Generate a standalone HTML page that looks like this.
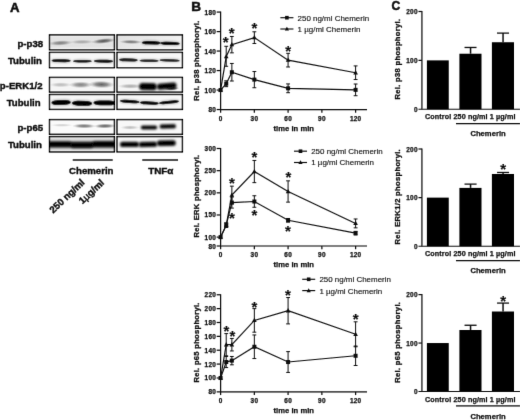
<!DOCTYPE html>
<html><head><meta charset="utf-8"><title>Figure</title>
<style>html,body{margin:0;padding:0;background:#fff;overflow:hidden}body{width:520px;height:420px;font-family:"Liberation Sans",sans-serif}</style>
</head><body>
<svg width="520" height="420" viewBox="0 0 520 420" style="display:block;font-family:'Liberation Sans',sans-serif">
<defs>
<filter id="b1" x="-30%" y="-100%" width="160%" height="300%"><feGaussianBlur stdDeviation="1.1 0.9"/></filter>
<filter id="b2" x="-30%" y="-100%" width="160%" height="300%"><feGaussianBlur stdDeviation="1.6 1.2"/></filter>
<filter id="b3" x="-30%" y="-100%" width="160%" height="300%"><feGaussianBlur stdDeviation="2.2 1.1"/></filter>
<filter id="tb" x="-5%" y="-5%" width="110%" height="110%"><feConvolveMatrix order="3" kernelMatrix="0 1 0 1 10 1 0 1 0" divisor="14" edgeMode="none" preserveAlpha="false"/></filter>
<filter id="gb" x="-5%" y="-5%" width="110%" height="110%"><feConvolveMatrix order="3" kernelMatrix="0 1 0 1 10 1 0 1 0" divisor="14" edgeMode="none" preserveAlpha="false"/></filter>
<linearGradient id="gtop" x1="0" y1="0" x2="0" y2="1"><stop offset="0" stop-color="#f6f6f6"/><stop offset="0.18" stop-color="#e4e4e4"/><stop offset="0.8" stop-color="#e2e2e2"/><stop offset="1" stop-color="#f8f8f8"/></linearGradient>
<filter id="rb" x="-20%" y="-60%" width="140%" height="220%"><feGaussianBlur stdDeviation="0.9"/></filter>
<radialGradient id="gs"><stop offset="0" stop-color="#000" stop-opacity="1"/><stop offset="0.45" stop-color="#000" stop-opacity="0.7"/><stop offset="0.75" stop-color="#000" stop-opacity="0.25"/><stop offset="1" stop-color="#000" stop-opacity="0"/></radialGradient>
<radialGradient id="gh"><stop offset="0" stop-color="#000" stop-opacity="1"/><stop offset="0.6" stop-color="#000" stop-opacity="1"/><stop offset="0.85" stop-color="#000" stop-opacity="0.45"/><stop offset="1" stop-color="#000" stop-opacity="0"/></radialGradient>
<linearGradient id="gtop2" x1="0" y1="0" x2="1" y2="0.4"><stop offset="0" stop-color="#e0e0e0"/><stop offset="0.6" stop-color="#ebebeb"/><stop offset="1" stop-color="#f4f4f4"/></linearGradient>
<linearGradient id="gtub" x1="0" y1="0" x2="0" y2="1"><stop offset="0" stop-color="#e6e6e6"/><stop offset="0.3" stop-color="#d4d4d4"/><stop offset="0.75" stop-color="#d4d4d4"/><stop offset="1" stop-color="#ececec"/></linearGradient>
</defs>
<rect width="520" height="420" fill="#fff"/>
<g filter="url(#tb)">
<text x="9.9" y="12.2" font-size="13.2" font-weight="bold" fill="#0d0d0d" stroke="#0d0d0d" stroke-width="0.55">A</text>
<clipPath id="c49_34"><rect x="49.5" y="34.9" width="64.9" height="14.9"/></clipPath>
<rect x="49.5" y="34.9" width="64.9" height="14.9" fill="url(#gtop)"/>
<g clip-path="url(#c49_34)">
<ellipse cx="60.5" cy="43" rx="12.2" ry="2.7" fill="url(#gs)" opacity="0.45" transform="rotate(-3.15 60.5 43)"/>
<ellipse cx="82" cy="41.9" rx="12.2" ry="2.3" fill="url(#gs)" opacity="0.27" transform="rotate(-0.86 82 41.9)"/>
<ellipse cx="103.5" cy="41" rx="12.2" ry="2.7" fill="url(#gs)" opacity="0.64" transform="rotate(-5.71 103.5 41)"/>
</g>
<rect x="49.5" y="34.9" width="64.9" height="14.9" fill="none" stroke="#000" stroke-width="1.4"/>
<clipPath id="c117_34"><rect x="117" y="34.9" width="65.4" height="14.9"/></clipPath>
<rect x="117" y="34.9" width="65.4" height="14.9" fill="url(#gtop2)"/>
<g clip-path="url(#c117_34)">
<ellipse cx="131" cy="41.9" rx="11.59" ry="2.2" fill="url(#gs)" opacity="0.5" transform="rotate(1.21 131 41.9)"/>
<rect x="141.5" y="40.85" width="19.3" height="3.9" rx="5.79" ry="1.95" fill="#000" opacity="0.4" filter="url(#rb)" transform="rotate(1.48 151.15 42.8)"/>
<rect x="141.8" y="41.15" width="18.7" height="3.3" rx="5.79" ry="1.65" fill="#000" opacity="1" transform="rotate(1.48 151.15 42.8)"/>
<rect x="160" y="41.5" width="20" height="3.8" rx="6" ry="1.9" fill="#000" opacity="0.4" filter="url(#rb)" transform="rotate(1.72 170 43.4)"/>
<rect x="160.3" y="41.8" width="19.4" height="3.2" rx="6" ry="1.6" fill="#000" opacity="1" transform="rotate(1.72 170 43.4)"/>
</g>
<rect x="117" y="34.9" width="65.4" height="14.9" fill="none" stroke="#000" stroke-width="1.4"/>
<clipPath id="c49_52"><rect x="49.5" y="52.4" width="64.9" height="15.3"/></clipPath>
<rect x="49.5" y="52.4" width="64.9" height="15.3" fill="#f8f8f8"/>
<g clip-path="url(#c49_52)">
<rect x="51.3" y="58.95" width="19.7" height="3.5" rx="5.91" ry="1.75" fill="#000" opacity="0.38" filter="url(#rb)" transform="rotate(0.58 61.15 60.7)"/>
<rect x="51.6" y="59.25" width="19.1" height="2.9" rx="5.91" ry="1.45" fill="#000" opacity="0.95" transform="rotate(0.58 61.15 60.7)"/>
<rect x="72.8" y="59.6" width="19.2" height="3.2" rx="5.76" ry="1.6" fill="#000" opacity="0.36" filter="url(#rb)"/>
<rect x="73.1" y="59.9" width="18.6" height="2.6" rx="5.76" ry="1.3" fill="#000" opacity="0.9"/>
<rect x="93.6" y="59.5" width="19.8" height="3.4" rx="5.94" ry="1.7" fill="#000" opacity="0.372" filter="url(#rb)" transform="rotate(0.87 103.5 61.2)"/>
<rect x="93.9" y="59.8" width="19.2" height="2.8" rx="5.94" ry="1.4" fill="#000" opacity="0.93" transform="rotate(0.87 103.5 61.2)"/>
</g>
<rect x="49.5" y="52.4" width="64.9" height="15.3" fill="none" stroke="#000" stroke-width="1.4"/>
<clipPath id="c117_52"><rect x="117" y="52.4" width="65.4" height="15.3"/></clipPath>
<rect x="117" y="52.4" width="65.4" height="15.3" fill="#f8f8f8"/>
<g clip-path="url(#c117_52)">
<rect x="118.5" y="58.15" width="19.5" height="3.5" rx="5.85" ry="1.75" fill="#000" opacity="0.34" filter="url(#rb)" transform="rotate(1.76 128.25 59.9)"/>
<rect x="118.8" y="58.45" width="18.9" height="2.9" rx="5.85" ry="1.45" fill="#000" opacity="0.85" transform="rotate(1.76 128.25 59.9)"/>
<rect x="139.2" y="59.15" width="19.8" height="3.1" rx="5.94" ry="1.55" fill="#000" opacity="0.32" filter="url(#rb)" transform="rotate(0.87 149.1 60.7)"/>
<rect x="139.5" y="59.45" width="19.2" height="2.5" rx="5.94" ry="1.25" fill="#000" opacity="0.8" transform="rotate(0.87 149.1 60.7)"/>
<rect x="159.3" y="58.85" width="20.7" height="3.1" rx="6.21" ry="1.55" fill="#000" opacity="0.32" filter="url(#rb)" transform="rotate(1.38 169.65 60.4)"/>
<rect x="159.6" y="59.15" width="20.1" height="2.5" rx="6.21" ry="1.25" fill="#000" opacity="0.8" transform="rotate(1.38 169.65 60.4)"/>
</g>
<rect x="117" y="52.4" width="65.4" height="15.3" fill="none" stroke="#000" stroke-width="1.4"/>
<clipPath id="c49_77"><rect x="49.5" y="77.4" width="64.9" height="14.7"/></clipPath>
<rect x="49.5" y="77.4" width="64.9" height="14.7" fill="#f5f5f5"/>
<g clip-path="url(#c49_77)">
<ellipse cx="60.75" cy="84.8" rx="11.285" ry="2.6" fill="url(#gs)" opacity="0.24"/>
<ellipse cx="80.75" cy="84.8" rx="11.895" ry="3.4" fill="url(#gs)" opacity="0.47"/>
<ellipse cx="101.5" cy="84.5" rx="12.81" ry="3.8" fill="url(#gs)" opacity="0.6" transform="rotate(1.36 101.5 84.5)"/>
</g>
<rect x="49.5" y="77.4" width="64.9" height="14.7" fill="none" stroke="#000" stroke-width="1.4"/>
<clipPath id="c117_77"><rect x="117" y="77.4" width="65.4" height="14.7"/></clipPath>
<rect x="117" y="77.4" width="65.4" height="14.7" fill="#f5f5f5"/>
<g clip-path="url(#c117_77)">
<ellipse cx="130.5" cy="86.2" rx="12.81" ry="2.6" fill="url(#gs)" opacity="0.3"/>
<rect x="139.1" y="83.05" width="17.7" height="7.1" rx="3.5" ry="3.5" fill="#000" opacity="1" filter="url(#rb)" transform="rotate(0.99 147.95 86.6)"/>
<rect x="157" y="83.05" width="19.6" height="6.3" rx="3.1" ry="3.1" fill="#000" opacity="1" filter="url(#rb)" transform="rotate(-4.76 166.8 86.2)"/>
<ellipse cx="172" cy="88.6" rx="7.32" ry="2" fill="url(#gs)" opacity="0.8" transform="rotate(-3.81 172 88.6)"/>
</g>
<rect x="117" y="77.4" width="65.4" height="14.7" fill="none" stroke="#000" stroke-width="1.4"/>
<clipPath id="c49_94"><rect x="49.5" y="94.5" width="64.9" height="14.9"/></clipPath>
<rect x="49.5" y="94.5" width="64.9" height="14.9" fill="#f6f6f6"/>
<g clip-path="url(#c49_94)">
<rect x="51.2" y="99.8" width="19.8" height="5.4" rx="5.94" ry="2.7" fill="#000" opacity="0.4" filter="url(#rb)" transform="rotate(-2.02 61.1 102.5)"/>
<rect x="51.5" y="100.1" width="19.2" height="4.8" rx="5.94" ry="2.4" fill="#000" opacity="1" transform="rotate(-2.02 61.1 102.5)"/>
<rect x="71.6" y="100.6" width="20.8" height="5.4" rx="6.24" ry="2.7" fill="#000" opacity="0.4" filter="url(#rb)" transform="rotate(1.10 82 103.3)"/>
<rect x="71.9" y="100.9" width="20.2" height="4.8" rx="6.24" ry="2.4" fill="#000" opacity="1" transform="rotate(1.10 82 103.3)"/>
<rect x="93.2" y="100.2" width="22.8" height="5.4" rx="6.84" ry="2.7" fill="#000" opacity="0.4" filter="url(#rb)" transform="rotate(0.75 104.6 102.9)"/>
<rect x="93.5" y="100.5" width="22.2" height="4.8" rx="6.84" ry="2.4" fill="#000" opacity="1" transform="rotate(0.75 104.6 102.9)"/>
</g>
<rect x="49.5" y="94.5" width="64.9" height="14.9" fill="none" stroke="#000" stroke-width="1.4"/>
<clipPath id="c117_94"><rect x="117" y="94.5" width="65.4" height="14.9"/></clipPath>
<rect x="117" y="94.5" width="65.4" height="14.9" fill="#f8f8f8"/>
<g clip-path="url(#c117_94)">
<rect x="119.5" y="99.75" width="20.3" height="3.5" rx="6.09" ry="1.75" fill="#000" opacity="0.4" filter="url(#rb)" transform="rotate(3.66 129.65 101.5)"/>
<rect x="119.8" y="100.05" width="19.7" height="2.9" rx="6.09" ry="1.45" fill="#000" opacity="1" transform="rotate(3.66 129.65 101.5)"/>
<rect x="139.6" y="101.2" width="19.4" height="3.6" rx="5.82" ry="1.8" fill="#000" opacity="0.4" filter="url(#rb)" transform="rotate(2.95 149.3 103)"/>
<rect x="139.9" y="101.5" width="18.8" height="3" rx="5.82" ry="1.5" fill="#000" opacity="1" transform="rotate(2.95 149.3 103)"/>
<rect x="158.8" y="100.55" width="20.5" height="3.5" rx="6.15" ry="1.75" fill="#000" opacity="0.4" filter="url(#rb)" transform="rotate(-5.57 169.05 102.3)"/>
<rect x="159.1" y="100.85" width="19.9" height="2.9" rx="6.15" ry="1.45" fill="#000" opacity="1" transform="rotate(-5.57 169.05 102.3)"/>
</g>
<rect x="117" y="94.5" width="65.4" height="14.9" fill="none" stroke="#000" stroke-width="1.4"/>
<clipPath id="c49_119"><rect x="49.5" y="119.6" width="64.9" height="14.7"/></clipPath>
<rect x="49.5" y="119.6" width="64.9" height="14.7" fill="#fafafa"/>
<g clip-path="url(#c49_119)">
<ellipse cx="61.75" cy="125.2" rx="11.285" ry="1.7" fill="url(#gs)" opacity="0.17"/>
<ellipse cx="84.05" cy="126" rx="11.895" ry="2.5" fill="url(#gs)" opacity="0.55" transform="rotate(0.59 84.05 126)"/>
<ellipse cx="104.9" cy="126" rx="11.102" ry="2.5" fill="url(#gs)" opacity="0.62" transform="rotate(-0.94 104.9 126)"/>
</g>
<rect x="49.5" y="119.6" width="64.9" height="14.7" fill="none" stroke="#000" stroke-width="1.4"/>
<clipPath id="c117_119"><rect x="117" y="119.6" width="65.4" height="14.7"/></clipPath>
<rect x="117" y="119.6" width="65.4" height="14.7" fill="#f8f8f8"/>
<g clip-path="url(#c117_119)">
<ellipse cx="130" cy="127.5" rx="9.76" ry="2.2" fill="url(#gs)" opacity="0.24"/>
<rect x="140.8" y="125.45" width="16.4" height="4.1" rx="2" ry="2" fill="#000" opacity="1" filter="url(#rb)"/>
<rect x="159.6" y="124.35" width="16.4" height="4.1" rx="2" ry="2" fill="#000" opacity="1" filter="url(#rb)" transform="rotate(-1.43 167.8 126.4)"/>
</g>
<rect x="117" y="119.6" width="65.4" height="14.7" fill="none" stroke="#000" stroke-width="1.4"/>
<clipPath id="c49_136"><rect x="49.5" y="136.6" width="64.9" height="15.3"/></clipPath>
<rect x="49.5" y="136.6" width="64.9" height="15.3" fill="url(#gtub)"/>
<g clip-path="url(#c49_136)">
<rect x="46.8" y="141.15" width="25.4" height="6.3" rx="3.1" ry="3.1" fill="#000" opacity="1" filter="url(#rb)"/>
<rect x="69.8" y="141.85" width="24.4" height="6.3" rx="3.1" ry="3.1" fill="#000" opacity="1" filter="url(#rb)"/>
<rect x="91.8" y="141" width="25.4" height="6.6" rx="3.25" ry="3.25" fill="#000" opacity="1" filter="url(#rb)"/>
</g>
<rect x="49.5" y="136.6" width="64.9" height="15.3" fill="none" stroke="#000" stroke-width="1.4"/>
<clipPath id="c117_136"><rect x="117" y="136.6" width="65.4" height="15.3"/></clipPath>
<rect x="117" y="136.6" width="65.4" height="15.3" fill="#f6f6f6"/>
<g clip-path="url(#c117_136)">
<rect x="120" y="141.8" width="19" height="5.2" rx="2.55" ry="2.55" fill="#000" opacity="1" filter="url(#rb)"/>
<rect x="138.9" y="141.8" width="18.2" height="5.2" rx="2.55" ry="2.55" fill="#000" opacity="1" filter="url(#rb)" transform="rotate(-1.29 148 144.4)"/>
<rect x="157" y="140.3" width="18.8" height="5.6" rx="2.75" ry="2.75" fill="#000" opacity="1" filter="url(#rb)" transform="rotate(-0.93 166.4 143.1)"/>
</g>
<rect x="117" y="136.6" width="65.4" height="15.3" fill="none" stroke="#000" stroke-width="1.4"/>
<text x="43.1" y="47" font-size="9.6" font-weight="bold" text-anchor="end" fill="#0d0d0d" stroke="#0d0d0d" stroke-width="0.4">p-p38</text>
<text x="41.9" y="64" font-size="9.6" font-weight="bold" text-anchor="end" fill="#0d0d0d" stroke="#0d0d0d" stroke-width="0.4">Tubulin</text>
<text x="42.5" y="88.9" font-size="9.6" font-weight="bold" text-anchor="end" fill="#0d0d0d" stroke="#0d0d0d" stroke-width="0.4">p-ERK1/2</text>
<text x="40.6" y="105.5" font-size="9.6" font-weight="bold" text-anchor="end" fill="#0d0d0d" stroke="#0d0d0d" stroke-width="0.4">Tubulin</text>
<text x="43.1" y="131" font-size="9.6" font-weight="bold" text-anchor="end" fill="#0d0d0d" stroke="#0d0d0d" stroke-width="0.4">p-p65</text>
<text x="41.9" y="148" font-size="9.6" font-weight="bold" text-anchor="end" fill="#0d0d0d" stroke="#0d0d0d" stroke-width="0.4">Tubulin</text>
<line x1="72.75" y1="160" x2="112.75" y2="160" stroke="#0d0d0d" stroke-width="1.4"/>
<line x1="142.25" y1="160" x2="178" y2="160" stroke="#0d0d0d" stroke-width="1.4"/>
<text x="91.25" y="173.6" font-size="9.65" font-weight="bold" text-anchor="middle" fill="#0d0d0d" stroke="#0d0d0d" stroke-width="0.4">Chemerin</text>
<text x="160.8" y="173.6" font-size="9.9" font-weight="bold" text-anchor="middle" fill="#0d0d0d" stroke="#0d0d0d" stroke-width="0.4">TNFα</text>
<text transform="translate(85.3,183.2) rotate(-43.5)" font-size="9.6" font-weight="bold" text-anchor="end" fill="#0d0d0d" stroke="#0d0d0d" stroke-width="0.4">250 ng/ml</text>
<text transform="translate(104.8,183.5) rotate(-43.5)" font-size="9.6" font-weight="bold" text-anchor="end" fill="#0d0d0d" stroke="#0d0d0d" stroke-width="0.4">1<tspan font-weight="normal">µ</tspan>g/ml</text>
</g>
<g filter="url(#gb)">
<text x="191.2" y="11.2" font-size="13.6" font-weight="bold" fill="#0d0d0d" stroke="#0d0d0d" stroke-width="0.5">B</text>
<path d="M220.6 11.5 V109.55 H367" fill="none" stroke="#0d0d0d" stroke-width="1.22"/>
<line x1="216.7" y1="109.55" x2="220.6" y2="109.55" stroke="#0d0d0d" stroke-width="1.22"/>
<text x="216.1" y="112.05" font-size="6.4" font-weight="bold" text-anchor="end" fill="#0d0d0d" stroke="#0d0d0d" stroke-width="0.25" letter-spacing="0.3">80</text>
<line x1="216.7" y1="90.06" x2="220.6" y2="90.06" stroke="#0d0d0d" stroke-width="1.22"/>
<text x="216.1" y="92.56" font-size="6.4" font-weight="bold" text-anchor="end" fill="#0d0d0d" stroke="#0d0d0d" stroke-width="0.25" letter-spacing="0.3">100</text>
<line x1="216.7" y1="70.57" x2="220.6" y2="70.57" stroke="#0d0d0d" stroke-width="1.22"/>
<text x="216.1" y="73.07" font-size="6.4" font-weight="bold" text-anchor="end" fill="#0d0d0d" stroke="#0d0d0d" stroke-width="0.25" letter-spacing="0.3">120</text>
<line x1="216.7" y1="51.08" x2="220.6" y2="51.08" stroke="#0d0d0d" stroke-width="1.22"/>
<text x="216.1" y="53.58" font-size="6.4" font-weight="bold" text-anchor="end" fill="#0d0d0d" stroke="#0d0d0d" stroke-width="0.25" letter-spacing="0.3">140</text>
<line x1="216.7" y1="31.59" x2="220.6" y2="31.59" stroke="#0d0d0d" stroke-width="1.22"/>
<text x="216.1" y="34.09" font-size="6.4" font-weight="bold" text-anchor="end" fill="#0d0d0d" stroke="#0d0d0d" stroke-width="0.25" letter-spacing="0.3">160</text>
<line x1="216.7" y1="12.1" x2="220.6" y2="12.1" stroke="#0d0d0d" stroke-width="1.22"/>
<text x="216.1" y="14.6" font-size="6.4" font-weight="bold" text-anchor="end" fill="#0d0d0d" stroke="#0d0d0d" stroke-width="0.25" letter-spacing="0.3">180</text>
<line x1="220.6" y1="109.55" x2="220.6" y2="112.75" stroke="#0d0d0d" stroke-width="1.22"/>
<text x="220.7" y="120.55" font-size="6.4" font-weight="bold" text-anchor="middle" fill="#0d0d0d" stroke="#0d0d0d" stroke-width="0.25" letter-spacing="0.3">0</text>
<line x1="254.35" y1="109.55" x2="254.35" y2="112.75" stroke="#0d0d0d" stroke-width="1.22"/>
<text x="254.45" y="120.55" font-size="6.4" font-weight="bold" text-anchor="middle" fill="#0d0d0d" stroke="#0d0d0d" stroke-width="0.25" letter-spacing="0.3">30</text>
<line x1="288.1" y1="109.55" x2="288.1" y2="112.75" stroke="#0d0d0d" stroke-width="1.22"/>
<text x="288.2" y="120.55" font-size="6.4" font-weight="bold" text-anchor="middle" fill="#0d0d0d" stroke="#0d0d0d" stroke-width="0.25" letter-spacing="0.3">60</text>
<line x1="321.85" y1="109.55" x2="321.85" y2="112.75" stroke="#0d0d0d" stroke-width="1.22"/>
<text x="321.95" y="120.55" font-size="6.4" font-weight="bold" text-anchor="middle" fill="#0d0d0d" stroke="#0d0d0d" stroke-width="0.25" letter-spacing="0.3">90</text>
<line x1="355.6" y1="109.55" x2="355.6" y2="112.75" stroke="#0d0d0d" stroke-width="1.22"/>
<text x="355.7" y="120.55" font-size="6.4" font-weight="bold" text-anchor="middle" fill="#0d0d0d" stroke="#0d0d0d" stroke-width="0.25" letter-spacing="0.3">120</text>
<text x="293.75" y="130.95" font-size="7.6" font-weight="bold" text-anchor="middle" fill="#0d0d0d" stroke="#0d0d0d" stroke-width="0.25" letter-spacing="0.05">time in min</text>
<text transform="translate(199.1,60.5) rotate(-90)" font-size="7.6" font-weight="bold" text-anchor="middle" fill="#0d0d0d" stroke="#0d0d0d" stroke-width="0.3" letter-spacing="0.28">Rel. p38 phosphoryl.</text>
<polyline points="220.6,90.06 226.225,83.7258 231.85,72.2267 254.35,79.6328 288.1,88.3059 355.6,89.8651" fill="none" stroke="#0d0d0d" stroke-width="1.15"/>
<rect x="218.6" y="88.06" width="4" height="4" fill="#0d0d0d"/>
<path d="M226.225 80.8023 V86.6492 M224.325 80.8023 H228.125 M224.325 86.6492 H228.125" stroke="#0d0d0d" stroke-width="1" fill="none"/>
<rect x="224.225" y="81.7258" width="4" height="4" fill="#0d0d0d"/>
<path d="M231.85 63.4562 V80.9972 M229.95 63.4562 H233.75 M229.95 80.9972 H233.75" stroke="#0d0d0d" stroke-width="1" fill="none"/>
<rect x="229.85" y="70.2267" width="4" height="4" fill="#0d0d0d"/>
<path d="M254.35 71.5445 V87.7212 M252.45 71.5445 H256.25 M252.45 87.7212 H256.25" stroke="#0d0d0d" stroke-width="1" fill="none"/>
<rect x="252.35" y="77.6328" width="4" height="4" fill="#0d0d0d"/>
<path d="M288.1 83.9206 V92.6911 M286.2 83.9206 H290 M286.2 92.6911 H290" stroke="#0d0d0d" stroke-width="1" fill="none"/>
<rect x="286.1" y="86.3059" width="4" height="4" fill="#0d0d0d"/>
<path d="M355.6 84.0181 V95.7121 M353.7 84.0181 H357.5 M353.7 95.7121 H357.5" stroke="#0d0d0d" stroke-width="1" fill="none"/>
<rect x="353.6" y="87.8651" width="4" height="4" fill="#0d0d0d"/>
<polyline points="220.6,90.06 226.225,56.5372 231.85,44.6483 254.35,37.6319 288.1,60.1429 355.6,72.7139" fill="none" stroke="#0d0d0d" stroke-width="1.15"/>
<path d="M220.6 87.46 L222.9 91.76 L218.3 91.76 Z" fill="#0d0d0d"/>
<path d="M226.225 46.3049 V66.2822 M224.325 46.3049 H228.125 M224.325 66.2822 H228.125" stroke="#0d0d0d" stroke-width="1" fill="none"/>
<path d="M226.225 53.9372 L228.525 58.2372 L223.925 58.2372 Z" fill="#0d0d0d"/>
<path d="M231.85 36.4625 V52.8341 M229.95 36.4625 H233.75 M229.95 52.8341 H233.75" stroke="#0d0d0d" stroke-width="1" fill="none"/>
<path d="M231.85 42.0483 L234.15 46.3483 L229.55 46.3483 Z" fill="#0d0d0d"/>
<path d="M254.35 31.7849 V43.4789 M252.45 31.7849 H256.25 M252.45 43.4789 H256.25" stroke="#0d0d0d" stroke-width="1" fill="none"/>
<path d="M254.35 35.0319 L256.65 39.3319 L252.05 39.3319 Z" fill="#0d0d0d"/>
<path d="M288.1 53.3214 V66.9644 M286.2 53.3214 H290 M286.2 66.9644 H290" stroke="#0d0d0d" stroke-width="1" fill="none"/>
<path d="M288.1 57.5429 L290.4 61.8429 L285.8 61.8429 Z" fill="#0d0d0d"/>
<path d="M355.6 65.8924 V79.5354 M353.7 65.8924 H357.5 M353.7 79.5354 H357.5" stroke="#0d0d0d" stroke-width="1" fill="none"/>
<path d="M355.6 70.1139 L357.9 74.4139 L353.3 74.4139 Z" fill="#0d0d0d"/>
<text x="225.75" y="47.13" font-size="15" font-weight="bold" text-anchor="middle" fill="#0d0d0d" stroke="#0d0d0d" stroke-width="0.15">*</text>
<text x="231.75" y="38.03" font-size="15" font-weight="bold" text-anchor="middle" fill="#0d0d0d" stroke="#0d0d0d" stroke-width="0.15">*</text>
<text x="254.4" y="32.78" font-size="15" font-weight="bold" text-anchor="middle" fill="#0d0d0d" stroke="#0d0d0d" stroke-width="0.15">*</text>
<text x="288.1" y="55.63" font-size="15" font-weight="bold" text-anchor="middle" fill="#0d0d0d" stroke="#0d0d0d" stroke-width="0.15">*</text>
<line x1="280.4" y1="17.7" x2="293.4" y2="17.7" stroke="#0d0d0d" stroke-width="1.15"/>
<rect x="285.1" y="15.9" width="3.6" height="3.6" fill="#0d0d0d"/>
<text x="297.6" y="20.6" font-size="7.95" fill="#0d0d0d" stroke="#0d0d0d" stroke-width="0.12">250 ng/ml Chemerin</text>
<line x1="280.4" y1="29" x2="293.4" y2="29" stroke="#0d0d0d" stroke-width="1.15"/>
<path d="M286.9 26.7 L289 30.6 L284.8 30.6 Z" fill="#0d0d0d"/>
<text x="297.6" y="31.9" font-size="7.95" fill="#0d0d0d" stroke="#0d0d0d" stroke-width="0.12">1 µg/ml Chemerin</text>
<path d="M220.6 147.9 V246 H367" fill="none" stroke="#0d0d0d" stroke-width="1.22"/>
<line x1="216.7" y1="246" x2="220.6" y2="246" stroke="#0d0d0d" stroke-width="1.22"/>
<text x="216.1" y="248.5" font-size="6.4" font-weight="bold" text-anchor="end" fill="#0d0d0d" stroke="#0d0d0d" stroke-width="0.25" letter-spacing="0.3">80</text>
<line x1="216.7" y1="237.136" x2="220.6" y2="237.136" stroke="#0d0d0d" stroke-width="1.22"/>
<text x="216.1" y="239.636" font-size="6.4" font-weight="bold" text-anchor="end" fill="#0d0d0d" stroke="#0d0d0d" stroke-width="0.25" letter-spacing="0.3">100</text>
<line x1="216.7" y1="214.977" x2="220.6" y2="214.977" stroke="#0d0d0d" stroke-width="1.22"/>
<text x="216.1" y="217.477" font-size="6.4" font-weight="bold" text-anchor="end" fill="#0d0d0d" stroke="#0d0d0d" stroke-width="0.25" letter-spacing="0.3">150</text>
<line x1="216.7" y1="192.818" x2="220.6" y2="192.818" stroke="#0d0d0d" stroke-width="1.22"/>
<text x="216.1" y="195.318" font-size="6.4" font-weight="bold" text-anchor="end" fill="#0d0d0d" stroke="#0d0d0d" stroke-width="0.25" letter-spacing="0.3">200</text>
<line x1="216.7" y1="170.659" x2="220.6" y2="170.659" stroke="#0d0d0d" stroke-width="1.22"/>
<text x="216.1" y="173.159" font-size="6.4" font-weight="bold" text-anchor="end" fill="#0d0d0d" stroke="#0d0d0d" stroke-width="0.25" letter-spacing="0.3">250</text>
<line x1="216.7" y1="148.5" x2="220.6" y2="148.5" stroke="#0d0d0d" stroke-width="1.22"/>
<text x="216.1" y="151" font-size="6.4" font-weight="bold" text-anchor="end" fill="#0d0d0d" stroke="#0d0d0d" stroke-width="0.25" letter-spacing="0.3">300</text>
<line x1="220.6" y1="246" x2="220.6" y2="249.2" stroke="#0d0d0d" stroke-width="1.22"/>
<text x="220.7" y="257" font-size="6.4" font-weight="bold" text-anchor="middle" fill="#0d0d0d" stroke="#0d0d0d" stroke-width="0.25" letter-spacing="0.3">0</text>
<line x1="254.35" y1="246" x2="254.35" y2="249.2" stroke="#0d0d0d" stroke-width="1.22"/>
<text x="254.45" y="257" font-size="6.4" font-weight="bold" text-anchor="middle" fill="#0d0d0d" stroke="#0d0d0d" stroke-width="0.25" letter-spacing="0.3">30</text>
<line x1="288.1" y1="246" x2="288.1" y2="249.2" stroke="#0d0d0d" stroke-width="1.22"/>
<text x="288.2" y="257" font-size="6.4" font-weight="bold" text-anchor="middle" fill="#0d0d0d" stroke="#0d0d0d" stroke-width="0.25" letter-spacing="0.3">60</text>
<line x1="321.85" y1="246" x2="321.85" y2="249.2" stroke="#0d0d0d" stroke-width="1.22"/>
<text x="321.95" y="257" font-size="6.4" font-weight="bold" text-anchor="middle" fill="#0d0d0d" stroke="#0d0d0d" stroke-width="0.25" letter-spacing="0.3">90</text>
<line x1="355.6" y1="246" x2="355.6" y2="249.2" stroke="#0d0d0d" stroke-width="1.22"/>
<text x="355.7" y="257" font-size="6.4" font-weight="bold" text-anchor="middle" fill="#0d0d0d" stroke="#0d0d0d" stroke-width="0.25" letter-spacing="0.3">120</text>
<text x="293.75" y="267.4" font-size="7.6" font-weight="bold" text-anchor="middle" fill="#0d0d0d" stroke="#0d0d0d" stroke-width="0.25" letter-spacing="0.05">time in min</text>
<text transform="translate(199.1,196.1) rotate(-90)" font-size="7.6" font-weight="bold" text-anchor="middle" fill="#0d0d0d" stroke="#0d0d0d" stroke-width="0.3" letter-spacing="0.27">Rel. ERK phosphoryl.</text>
<polyline points="220.6,237.136 226.225,225.17 231.85,202.568 254.35,201.505 288.1,220.295 355.6,233.148" fill="none" stroke="#0d0d0d" stroke-width="1.15"/>
<rect x="218.6" y="235.136" width="4" height="4" fill="#0d0d0d"/>
<path d="M226.225 222.955 V227.386 M224.325 222.955 H228.125 M224.325 227.386 H228.125" stroke="#0d0d0d" stroke-width="1" fill="none"/>
<rect x="224.225" y="223.17" width="4" height="4" fill="#0d0d0d"/>
<path d="M231.85 197.028 V208.108 M229.95 197.028 H233.75 M229.95 208.108 H233.75" stroke="#0d0d0d" stroke-width="1" fill="none"/>
<rect x="229.85" y="200.568" width="4" height="4" fill="#0d0d0d"/>
<path d="M254.35 195.743 V207.266 M252.45 195.743 H256.25 M252.45 207.266 H256.25" stroke="#0d0d0d" stroke-width="1" fill="none"/>
<rect x="252.35" y="199.505" width="4" height="4" fill="#0d0d0d"/>
<path d="M288.1 218.523 V222.068 M286.2 218.523 H290 M286.2 222.068 H290" stroke="#0d0d0d" stroke-width="1" fill="none"/>
<rect x="286.1" y="218.295" width="4" height="4" fill="#0d0d0d"/>
<path d="M355.6 231.375 V234.92 M353.7 231.375 H357.5 M353.7 234.92 H357.5" stroke="#0d0d0d" stroke-width="1" fill="none"/>
<rect x="353.6" y="231.148" width="4" height="4" fill="#0d0d0d"/>
<polyline points="220.6,237.136 226.225,225.17 231.85,195.034 254.35,171.545 288.1,191.489 355.6,223.398" fill="none" stroke="#0d0d0d" stroke-width="1.15"/>
<path d="M220.6 234.536 L222.9 238.836 L218.3 238.836 Z" fill="#0d0d0d"/>
<path d="M226.225 222.955 V227.386 M224.325 222.955 H228.125 M224.325 227.386 H228.125" stroke="#0d0d0d" stroke-width="1" fill="none"/>
<path d="M226.225 222.57 L228.525 226.87 L223.925 226.87 Z" fill="#0d0d0d"/>
<path d="M231.85 186.17 V203.898 M229.95 186.17 H233.75 M229.95 203.898 H233.75" stroke="#0d0d0d" stroke-width="1" fill="none"/>
<path d="M231.85 192.434 L234.15 196.734 L229.55 196.734 Z" fill="#0d0d0d"/>
<path d="M254.35 160.466 V182.625 M252.45 160.466 H256.25 M252.45 182.625 H256.25" stroke="#0d0d0d" stroke-width="1" fill="none"/>
<path d="M254.35 168.945 L256.65 173.245 L252.05 173.245 Z" fill="#0d0d0d"/>
<path d="M288.1 180.852 V202.125 M286.2 180.852 H290 M286.2 202.125 H290" stroke="#0d0d0d" stroke-width="1" fill="none"/>
<path d="M288.1 188.889 L290.4 193.189 L285.8 193.189 Z" fill="#0d0d0d"/>
<path d="M355.6 218.966 V227.83 M353.7 218.966 H357.5 M353.7 227.83 H357.5" stroke="#0d0d0d" stroke-width="1" fill="none"/>
<path d="M355.6 220.798 L357.9 225.098 L353.3 225.098 Z" fill="#0d0d0d"/>
<text x="231.9" y="187.53" font-size="15" font-weight="bold" text-anchor="middle" fill="#0d0d0d" stroke="#0d0d0d" stroke-width="0.15">*</text>
<text x="254.4" y="161.93" font-size="15" font-weight="bold" text-anchor="middle" fill="#0d0d0d" stroke="#0d0d0d" stroke-width="0.15">*</text>
<text x="288.3" y="181.93" font-size="15" font-weight="bold" text-anchor="middle" fill="#0d0d0d" stroke="#0d0d0d" stroke-width="0.15">*</text>
<text x="231.9" y="223.13" font-size="15" font-weight="bold" text-anchor="middle" fill="#0d0d0d" stroke="#0d0d0d" stroke-width="0.15">*</text>
<text x="254.4" y="220.28" font-size="15" font-weight="bold" text-anchor="middle" fill="#0d0d0d" stroke="#0d0d0d" stroke-width="0.15">*</text>
<text x="288" y="235.73" font-size="15" font-weight="bold" text-anchor="middle" fill="#0d0d0d" stroke="#0d0d0d" stroke-width="0.15">*</text>
<line x1="294" y1="151.2" x2="307" y2="151.2" stroke="#0d0d0d" stroke-width="1.15"/>
<rect x="298.7" y="149.4" width="3.6" height="3.6" fill="#0d0d0d"/>
<text x="311.2" y="154.1" font-size="7.95" fill="#0d0d0d" stroke="#0d0d0d" stroke-width="0.12">250 ng/ml Chemerin</text>
<line x1="294" y1="162.5" x2="307" y2="162.5" stroke="#0d0d0d" stroke-width="1.15"/>
<path d="M300.5 160.2 L302.6 164.1 L298.4 164.1 Z" fill="#0d0d0d"/>
<text x="311.2" y="165.4" font-size="7.95" fill="#0d0d0d" stroke="#0d0d0d" stroke-width="0.12">1 µg/ml Chemerin</text>
<path d="M220.6 294.15 V391.85 H367" fill="none" stroke="#0d0d0d" stroke-width="1.22"/>
<line x1="216.7" y1="391.85" x2="220.6" y2="391.85" stroke="#0d0d0d" stroke-width="1.22"/>
<text x="216.1" y="394.35" font-size="6.4" font-weight="bold" text-anchor="end" fill="#0d0d0d" stroke="#0d0d0d" stroke-width="0.25" letter-spacing="0.3">80</text>
<line x1="216.7" y1="377.979" x2="220.6" y2="377.979" stroke="#0d0d0d" stroke-width="1.22"/>
<text x="216.1" y="380.479" font-size="6.4" font-weight="bold" text-anchor="end" fill="#0d0d0d" stroke="#0d0d0d" stroke-width="0.25" letter-spacing="0.3">100</text>
<line x1="216.7" y1="364.107" x2="220.6" y2="364.107" stroke="#0d0d0d" stroke-width="1.22"/>
<text x="216.1" y="366.607" font-size="6.4" font-weight="bold" text-anchor="end" fill="#0d0d0d" stroke="#0d0d0d" stroke-width="0.25" letter-spacing="0.3">120</text>
<line x1="216.7" y1="350.236" x2="220.6" y2="350.236" stroke="#0d0d0d" stroke-width="1.22"/>
<text x="216.1" y="352.736" font-size="6.4" font-weight="bold" text-anchor="end" fill="#0d0d0d" stroke="#0d0d0d" stroke-width="0.25" letter-spacing="0.3">140</text>
<line x1="216.7" y1="336.364" x2="220.6" y2="336.364" stroke="#0d0d0d" stroke-width="1.22"/>
<text x="216.1" y="338.864" font-size="6.4" font-weight="bold" text-anchor="end" fill="#0d0d0d" stroke="#0d0d0d" stroke-width="0.25" letter-spacing="0.3">160</text>
<line x1="216.7" y1="322.493" x2="220.6" y2="322.493" stroke="#0d0d0d" stroke-width="1.22"/>
<text x="216.1" y="324.993" font-size="6.4" font-weight="bold" text-anchor="end" fill="#0d0d0d" stroke="#0d0d0d" stroke-width="0.25" letter-spacing="0.3">180</text>
<line x1="216.7" y1="308.621" x2="220.6" y2="308.621" stroke="#0d0d0d" stroke-width="1.22"/>
<text x="216.1" y="311.121" font-size="6.4" font-weight="bold" text-anchor="end" fill="#0d0d0d" stroke="#0d0d0d" stroke-width="0.25" letter-spacing="0.3">200</text>
<line x1="216.7" y1="294.75" x2="220.6" y2="294.75" stroke="#0d0d0d" stroke-width="1.22"/>
<text x="216.1" y="297.25" font-size="6.4" font-weight="bold" text-anchor="end" fill="#0d0d0d" stroke="#0d0d0d" stroke-width="0.25" letter-spacing="0.3">220</text>
<line x1="220.6" y1="391.85" x2="220.6" y2="395.05" stroke="#0d0d0d" stroke-width="1.22"/>
<text x="220.7" y="402.85" font-size="6.4" font-weight="bold" text-anchor="middle" fill="#0d0d0d" stroke="#0d0d0d" stroke-width="0.25" letter-spacing="0.3">0</text>
<line x1="254.35" y1="391.85" x2="254.35" y2="395.05" stroke="#0d0d0d" stroke-width="1.22"/>
<text x="254.45" y="402.85" font-size="6.4" font-weight="bold" text-anchor="middle" fill="#0d0d0d" stroke="#0d0d0d" stroke-width="0.25" letter-spacing="0.3">30</text>
<line x1="288.1" y1="391.85" x2="288.1" y2="395.05" stroke="#0d0d0d" stroke-width="1.22"/>
<text x="288.2" y="402.85" font-size="6.4" font-weight="bold" text-anchor="middle" fill="#0d0d0d" stroke="#0d0d0d" stroke-width="0.25" letter-spacing="0.3">60</text>
<line x1="321.85" y1="391.85" x2="321.85" y2="395.05" stroke="#0d0d0d" stroke-width="1.22"/>
<text x="321.95" y="402.85" font-size="6.4" font-weight="bold" text-anchor="middle" fill="#0d0d0d" stroke="#0d0d0d" stroke-width="0.25" letter-spacing="0.3">90</text>
<line x1="355.6" y1="391.85" x2="355.6" y2="395.05" stroke="#0d0d0d" stroke-width="1.22"/>
<text x="355.7" y="402.85" font-size="6.4" font-weight="bold" text-anchor="middle" fill="#0d0d0d" stroke="#0d0d0d" stroke-width="0.25" letter-spacing="0.3">120</text>
<text x="293.75" y="413.25" font-size="7.6" font-weight="bold" text-anchor="middle" fill="#0d0d0d" stroke="#0d0d0d" stroke-width="0.25" letter-spacing="0.05">time in min</text>
<text transform="translate(199.1,342.4) rotate(-90)" font-size="7.6" font-weight="bold" text-anchor="middle" fill="#0d0d0d" stroke="#0d0d0d" stroke-width="0.3" letter-spacing="0.28">Rel. p65 phosphoryl.</text>
<polyline points="220.6,377.979 226.225,362.026 231.85,360.639 254.35,346.768 288.1,362.026 355.6,355.784" fill="none" stroke="#0d0d0d" stroke-width="1.15"/>
<rect x="218.6" y="375.979" width="4" height="4" fill="#0d0d0d"/>
<path d="M226.225 356.478 V367.575 M224.325 356.478 H228.125 M224.325 367.575 H228.125" stroke="#0d0d0d" stroke-width="1" fill="none"/>
<rect x="224.225" y="360.026" width="4" height="4" fill="#0d0d0d"/>
<path d="M231.85 356.478 V364.801 M229.95 356.478 H233.75 M229.95 364.801 H233.75" stroke="#0d0d0d" stroke-width="1" fill="none"/>
<rect x="229.85" y="358.639" width="4" height="4" fill="#0d0d0d"/>
<path d="M254.35 334.977 V358.559 M252.45 334.977 H256.25 M252.45 358.559 H256.25" stroke="#0d0d0d" stroke-width="1" fill="none"/>
<rect x="252.35" y="344.768" width="4" height="4" fill="#0d0d0d"/>
<path d="M288.1 351.623 V372.43 M286.2 351.623 H290 M286.2 372.43 H290" stroke="#0d0d0d" stroke-width="1" fill="none"/>
<rect x="286.1" y="360.026" width="4" height="4" fill="#0d0d0d"/>
<path d="M355.6 346.074 V365.494 M353.7 346.074 H357.5 M353.7 365.494 H357.5" stroke="#0d0d0d" stroke-width="1" fill="none"/>
<rect x="353.6" y="353.784" width="4" height="4" fill="#0d0d0d"/>
<polyline points="220.6,377.979 226.225,344.687 231.85,344.687 254.35,320.412 288.1,310.702 355.6,334.284" fill="none" stroke="#0d0d0d" stroke-width="1.15"/>
<path d="M220.6 375.379 L222.9 379.679 L218.3 379.679 Z" fill="#0d0d0d"/>
<path d="M226.225 333.59 V355.784 M224.325 333.59 H228.125 M224.325 355.784 H228.125" stroke="#0d0d0d" stroke-width="1" fill="none"/>
<path d="M226.225 342.087 L228.525 346.387 L223.925 346.387 Z" fill="#0d0d0d"/>
<path d="M231.85 338.445 V350.929 M229.95 338.445 H233.75 M229.95 350.929 H233.75" stroke="#0d0d0d" stroke-width="1" fill="none"/>
<path d="M231.85 342.087 L234.15 346.387 L229.55 346.387 Z" fill="#0d0d0d"/>
<path d="M254.35 308.621 V332.203 M252.45 308.621 H256.25 M252.45 332.203 H256.25" stroke="#0d0d0d" stroke-width="1" fill="none"/>
<path d="M254.35 317.812 L256.65 322.112 L252.05 322.112 Z" fill="#0d0d0d"/>
<path d="M288.1 297.524 V323.88 M286.2 297.524 H290 M286.2 323.88 H290" stroke="#0d0d0d" stroke-width="1" fill="none"/>
<path d="M288.1 308.102 L290.4 312.402 L285.8 312.402 Z" fill="#0d0d0d"/>
<path d="M355.6 321.799 V346.768 M353.7 321.799 H357.5 M353.7 346.768 H357.5" stroke="#0d0d0d" stroke-width="1" fill="none"/>
<path d="M355.6 331.684 L357.9 335.984 L353.3 335.984 Z" fill="#0d0d0d"/>
<text x="226.5" y="336.28" font-size="15" font-weight="bold" text-anchor="middle" fill="#0d0d0d" stroke="#0d0d0d" stroke-width="0.15">*</text>
<text x="232.4" y="341.03" font-size="15" font-weight="bold" text-anchor="middle" fill="#0d0d0d" stroke="#0d0d0d" stroke-width="0.15">*</text>
<text x="254.5" y="311.53" font-size="15" font-weight="bold" text-anchor="middle" fill="#0d0d0d" stroke="#0d0d0d" stroke-width="0.15">*</text>
<text x="288" y="299.78" font-size="15" font-weight="bold" text-anchor="middle" fill="#0d0d0d" stroke="#0d0d0d" stroke-width="0.15">*</text>
<text x="355.6" y="323.53" font-size="15" font-weight="bold" text-anchor="middle" fill="#0d0d0d" stroke="#0d0d0d" stroke-width="0.15">*</text>
<line x1="302.2" y1="279.3" x2="315.2" y2="279.3" stroke="#0d0d0d" stroke-width="1.15"/>
<rect x="306.9" y="277.5" width="3.6" height="3.6" fill="#0d0d0d"/>
<text x="319.4" y="282.2" font-size="7.95" fill="#0d0d0d" stroke="#0d0d0d" stroke-width="0.12">250 ng/ml Chemerin</text>
<line x1="302.2" y1="290.6" x2="315.2" y2="290.6" stroke="#0d0d0d" stroke-width="1.15"/>
<path d="M308.7 288.3 L310.8 292.2 L306.6 292.2 Z" fill="#0d0d0d"/>
<text x="319.4" y="293.5" font-size="7.95" fill="#0d0d0d" stroke="#0d0d0d" stroke-width="0.12">1 µg/ml Chemerin</text>
</g>
<g filter="url(#gb)">
<text x="391.6" y="9.8" font-size="12" font-weight="bold" fill="#0d0d0d" stroke="#0d0d0d" stroke-width="0.5">C</text>
<path d="M421.9 10.9 V109.25" fill="none" stroke="#0d0d0d" stroke-width="1.22"/>
<path d="M418.5 109.25 H520" fill="none" stroke="#0d0d0d" stroke-width="1.22"/>
<line x1="418.5" y1="60.375" x2="421.9" y2="60.375" stroke="#0d0d0d" stroke-width="1.22"/>
<line x1="418.5" y1="11.5" x2="421.9" y2="11.5" stroke="#0d0d0d" stroke-width="1.22"/>
<text x="417.8" y="111.75" font-size="6.4" font-weight="bold" text-anchor="end" fill="#0d0d0d" stroke="#0d0d0d" stroke-width="0.25" letter-spacing="0.3">0</text>
<text x="417.8" y="62.875" font-size="6.4" font-weight="bold" text-anchor="end" fill="#0d0d0d" stroke="#0d0d0d" stroke-width="0.25" letter-spacing="0.3">100</text>
<text x="417.8" y="14" font-size="6.4" font-weight="bold" text-anchor="end" fill="#0d0d0d" stroke="#0d0d0d" stroke-width="0.25" letter-spacing="0.3">200</text>
<rect x="426.9" y="60.375" width="21.85" height="48.875" fill="#050505"/>
<rect x="459.4" y="53.728" width="22.1" height="55.522" fill="#050505"/>
<path d="M470.55 53.728 V47.472" stroke="#0d0d0d" stroke-width="1.5" fill="none"/>
<path d="M464.55 47.472 H476.55" stroke="#0d0d0d" stroke-width="1.3" fill="none"/>
<rect x="491.9" y="42.2424" width="22.1" height="67.0076" fill="#050505"/>
<path d="M503.05 42.2424 V33.1028" stroke="#0d0d0d" stroke-width="1.5" fill="none"/>
<path d="M497.05 33.1028 H509.05" stroke="#0d0d0d" stroke-width="1.3" fill="none"/>
<text x="425" y="119.25" font-size="7.2" font-weight="bold" fill="#0d0d0d" stroke="#0d0d0d" stroke-width="0.25" letter-spacing="0.12">Control 250 ng/ml 1 µg/ml</text>
<line x1="456" y1="123.65" x2="520" y2="123.65" stroke="#0d0d0d" stroke-width="1.22"/>
<text x="488.1" y="136.45" font-size="7.6" font-weight="bold" text-anchor="middle" fill="#0d0d0d" stroke="#0d0d0d" stroke-width="0.25" letter-spacing="0.05">Chemerin</text>
<text transform="translate(400.4,59.1) rotate(-90)" font-size="7.6" font-weight="bold" text-anchor="middle" fill="#0d0d0d" stroke="#0d0d0d" stroke-width="0.3" letter-spacing="0.316">Rel. p38 phosphoryl.</text>
<path d="M421.9 148.4 V246.25" fill="none" stroke="#0d0d0d" stroke-width="1.22"/>
<path d="M418.5 246.25 H520" fill="none" stroke="#0d0d0d" stroke-width="1.22"/>
<line x1="418.5" y1="197.625" x2="421.9" y2="197.625" stroke="#0d0d0d" stroke-width="1.22"/>
<line x1="418.5" y1="149" x2="421.9" y2="149" stroke="#0d0d0d" stroke-width="1.22"/>
<text x="417.8" y="248.75" font-size="6.4" font-weight="bold" text-anchor="end" fill="#0d0d0d" stroke="#0d0d0d" stroke-width="0.25" letter-spacing="0.3">0</text>
<text x="417.8" y="200.125" font-size="6.4" font-weight="bold" text-anchor="end" fill="#0d0d0d" stroke="#0d0d0d" stroke-width="0.25" letter-spacing="0.3">100</text>
<text x="417.8" y="151.5" font-size="6.4" font-weight="bold" text-anchor="end" fill="#0d0d0d" stroke="#0d0d0d" stroke-width="0.25" letter-spacing="0.3">200</text>
<rect x="426.9" y="197.625" width="21.85" height="48.625" fill="#050505"/>
<rect x="459.4" y="187.9" width="22.1" height="58.35" fill="#050505"/>
<path d="M470.55 187.9 V184.107" stroke="#0d0d0d" stroke-width="1.5" fill="none"/>
<path d="M464.55 184.107 H476.55" stroke="#0d0d0d" stroke-width="1.3" fill="none"/>
<rect x="491.9" y="173.993" width="22.1" height="72.2568" fill="#050505"/>
<path d="M503.05 173.993 V172.486" stroke="#0d0d0d" stroke-width="1.5" fill="none"/>
<path d="M497.05 172.486 H509.05" stroke="#0d0d0d" stroke-width="1.3" fill="none"/>
<text x="425" y="256.25" font-size="7.2" font-weight="bold" fill="#0d0d0d" stroke="#0d0d0d" stroke-width="0.25" letter-spacing="0.12">Control 250 ng/ml 1 µg/ml</text>
<line x1="456" y1="260.65" x2="520" y2="260.65" stroke="#0d0d0d" stroke-width="1.22"/>
<text x="488.1" y="273.45" font-size="7.6" font-weight="bold" text-anchor="middle" fill="#0d0d0d" stroke="#0d0d0d" stroke-width="0.25" letter-spacing="0.05">Chemerin</text>
<text transform="translate(400.4,196.7) rotate(-90)" font-size="7.6" font-weight="bold" text-anchor="middle" fill="#0d0d0d" stroke="#0d0d0d" stroke-width="0.3" letter-spacing="0.316">Rel. ERK1/2 phosphoryl.</text>
<text x="503.1" y="174.43" font-size="15" font-weight="bold" text-anchor="middle" fill="#0d0d0d" stroke="#0d0d0d" stroke-width="0.15">*</text>
<path d="M421.9 294 V391.5" fill="none" stroke="#0d0d0d" stroke-width="1.22"/>
<path d="M418.5 391.5 H520" fill="none" stroke="#0d0d0d" stroke-width="1.22"/>
<line x1="418.5" y1="343.05" x2="421.9" y2="343.05" stroke="#0d0d0d" stroke-width="1.22"/>
<line x1="418.5" y1="294.6" x2="421.9" y2="294.6" stroke="#0d0d0d" stroke-width="1.22"/>
<text x="417.8" y="394" font-size="6.4" font-weight="bold" text-anchor="end" fill="#0d0d0d" stroke="#0d0d0d" stroke-width="0.25" letter-spacing="0.3">0</text>
<text x="417.8" y="345.55" font-size="6.4" font-weight="bold" text-anchor="end" fill="#0d0d0d" stroke="#0d0d0d" stroke-width="0.25" letter-spacing="0.3">100</text>
<text x="417.8" y="297.1" font-size="6.4" font-weight="bold" text-anchor="end" fill="#0d0d0d" stroke="#0d0d0d" stroke-width="0.25" letter-spacing="0.3">200</text>
<rect x="426.9" y="343.05" width="21.85" height="48.45" fill="#050505"/>
<rect x="459.4" y="330.017" width="22.1" height="61.483" fill="#050505"/>
<path d="M470.55 330.017 V325.269" stroke="#0d0d0d" stroke-width="1.5" fill="none"/>
<path d="M464.55 325.269 H476.55" stroke="#0d0d0d" stroke-width="1.3" fill="none"/>
<rect x="491.9" y="311.509" width="22.1" height="79.9909" fill="#050505"/>
<path d="M503.05 311.509 V303.079" stroke="#0d0d0d" stroke-width="1.5" fill="none"/>
<path d="M497.05 303.079 H509.05" stroke="#0d0d0d" stroke-width="1.3" fill="none"/>
<text x="425" y="401.5" font-size="7.2" font-weight="bold" fill="#0d0d0d" stroke="#0d0d0d" stroke-width="0.25" letter-spacing="0.12">Control 250 ng/ml 1 µg/ml</text>
<line x1="456" y1="405.9" x2="520" y2="405.9" stroke="#0d0d0d" stroke-width="1.22"/>
<text x="488.1" y="418.7" font-size="7.6" font-weight="bold" text-anchor="middle" fill="#0d0d0d" stroke="#0d0d0d" stroke-width="0.25" letter-spacing="0.05">Chemerin</text>
<text transform="translate(400.4,342.25) rotate(-90)" font-size="7.6" font-weight="bold" text-anchor="middle" fill="#0d0d0d" stroke="#0d0d0d" stroke-width="0.3" letter-spacing="0.316">Rel. p65 phosphoryl.</text>
<text x="503.1" y="306.03" font-size="15" font-weight="bold" text-anchor="middle" fill="#0d0d0d" stroke="#0d0d0d" stroke-width="0.15">*</text>
</g>
</svg>
</body></html>
